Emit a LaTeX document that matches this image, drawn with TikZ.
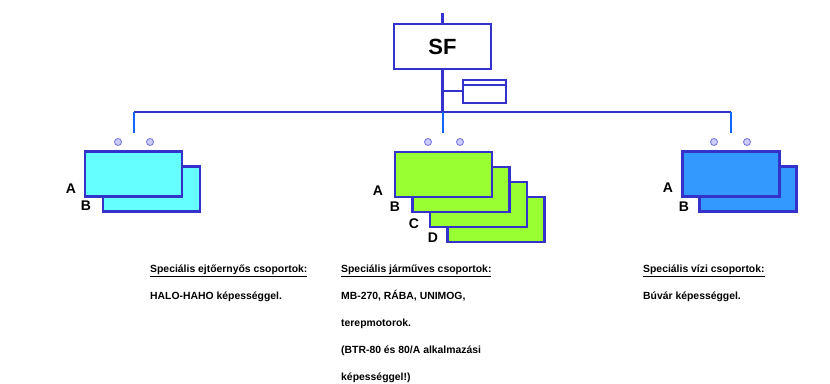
\documentclass[tikz,border=0pt]{standalone}
\usepackage{fontspec}
\setmainfont{Liberation Sans}
\usepackage{tikz}
\usetikzlibrary{positioning}
\definecolor{frame}{HTML}{3333CC}
\definecolor{drop}{HTML}{1166FF}
\definecolor{cyanfill}{HTML}{66FFFF}
\definecolor{greenfill}{HTML}{99FF33}
\definecolor{bluefill}{HTML}{3399FF}
\definecolor{dotfill}{HTML}{CCCCFF}
\tikzstyle{group}=[rectangle, draw=frame, line width=2.4pt, minimum width=97pt, minimum height=45pt, inner sep=0pt]
\tikzstyle{letter}=[font=\fontsize{14}{14}\bfseries, inner sep=0pt]
\tikzstyle{hole}=[circle, draw=frame!70, fill=dotfill, line width=0.8pt, minimum size=7pt, inner sep=0pt]
\tikzstyle{wire}=[draw=frame, line width=2.2pt]
\tikzstyle{desc}=[anchor=north west, align=left, inner sep=0pt, font=\fontsize{10.4}{27}\selectfont\bfseries]

\begin{document}
\begin{tikzpicture}[x=1pt, y=-1pt]
  \useasboundingbox (0,0) rectangle (830,383);
  % top unit
  \node[rectangle, draw=frame, line width=2.5pt, minimum width=97pt, minimum height=45pt,
        font=\fontsize{22}{22}\bfseries] (sf) at (442.5,46.5) {SF};
  \coordinate (top) at (442.5,13);
  \coordinate (fork) at (442.5,112);
  \coordinate (tap) at (442.5,91);
  \node[rectangle, draw=frame, line width=2pt, minimum width=43pt, minimum height=23pt] (staff) at (484,91) {};
  \draw[frame, line width=2pt] ([yshift=-6pt]staff.north west) -- ([yshift=-6pt]staff.north east);
  \draw[wire] (top) -- (sf.north);
  \draw[wire] (sf.south) -- (fork);
  \draw[wire] (tap) -- (staff.west);

  % groups, back to front
  \node[group, fill=cyanfill] (air2) at (151.5,189) {};
  \node[group, fill=cyanfill] (air1) at (133.5,174) {};

  \node[group, fill=greenfill] (car4) at (496,219.5) {};
  \node[group, fill=greenfill] (car3) at (478.5,204.5) {};
  \node[group, fill=greenfill] (car2) at (461,189.5) {};
  \node[group, fill=greenfill] (car1) at (443.5,174.5) {};

  \node[group, fill=bluefill] (sea2) at (748,189) {};
  \node[group, fill=bluefill] (sea1) at (731,174) {};

  % bus and drops
  \coordinate (airtop) at (133.5,133);
  \coordinate (cartop) at (442.5,133);
  \coordinate (seatop) at (731,133);
  \draw[wire] (airtop |- fork) -- (seatop |- fork);
  \draw[drop, line width=2pt] (airtop |- fork) -- (airtop);
  \draw[drop, line width=2pt] (fork) -- (cartop);
  \draw[drop, line width=2pt] (seatop |- fork) -- (seatop);

  \node[hole] (h1) at (118,142) {};
  \node[hole] (h2) at (150,142) {};
  \node[hole] (h3) at (428,142) {};
  \node[hole] (h4) at (460,142) {};
  \node[hole] (h5) at (714,142) {};
  \node[hole] (h6) at (747,142) {};

  % letters
  \node[letter] (la1) at (71,189) {A};
  \node[letter] (lb1) at (86,206) {B};
  \node[letter] (la2) at (378,191) {A};
  \node[letter] (lb2) at (395,207) {B};
  \node[letter] (lc2) at (414,224) {C};
  \node[letter] (ld2) at (433,238) {D};
  \node[letter] (la3) at (668,188) {A};
  \node[letter] (lb3) at (684,207) {B};

  % descriptions
  \node[desc] (t1) at (150,265) {\underline{Speciális ejtőernyős csoportok:}\\HALO-HAHO képességgel.};
  \node[desc] (t2) at (341,265) {\underline{Speciális járműves csoportok:}\\MB-270, RÁBA, UNIMOG,\\terepmotorok.\\(BTR-80 és 80/A alkalmazási\\képességgel!)};
  \node[desc] (t3) at (643,265) {\underline{Speciális vízi csoportok:}\\Búvár képességgel.};
\end{tikzpicture}
\end{document}
